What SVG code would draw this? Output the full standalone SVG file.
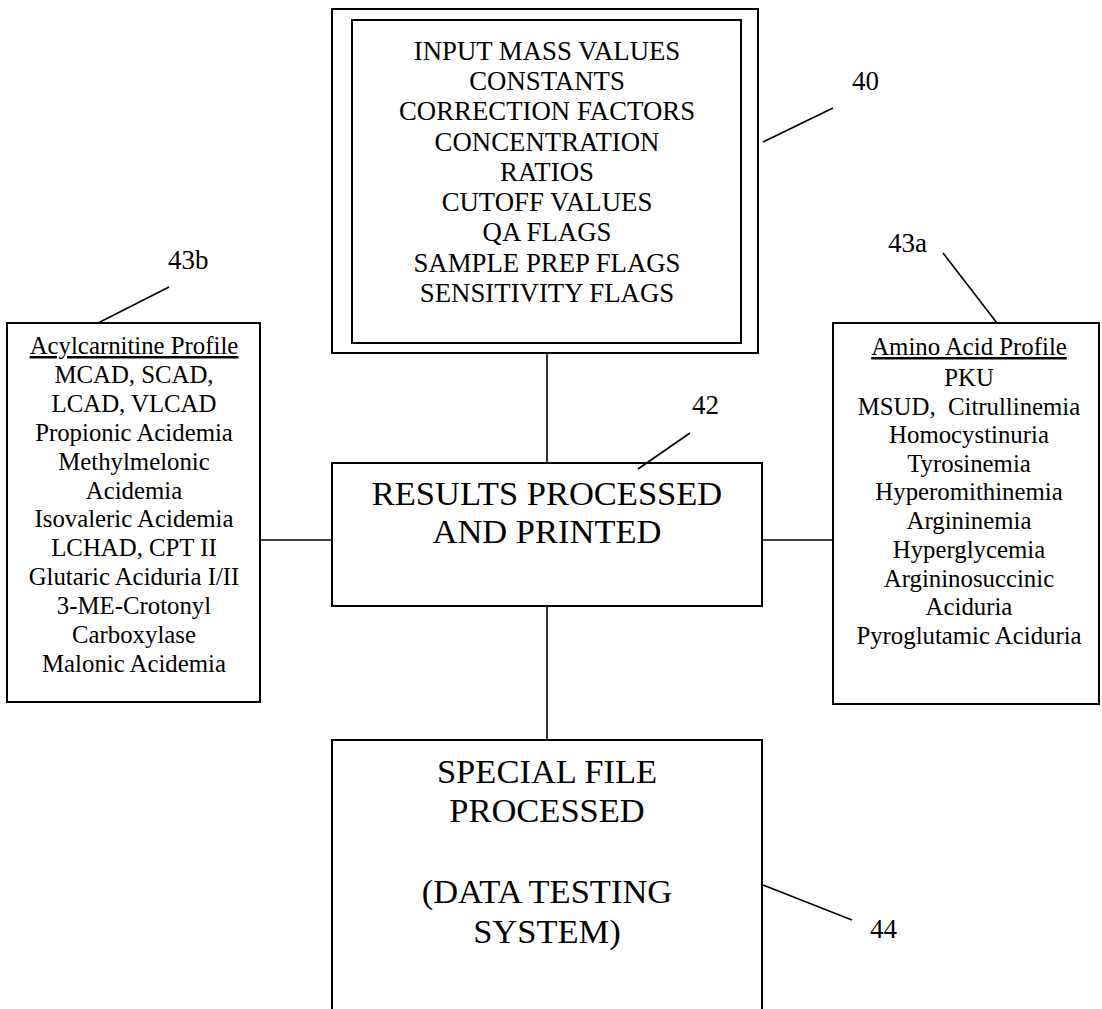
<svg xmlns="http://www.w3.org/2000/svg" width="1102" height="1009" viewBox="0 0 1102 1009">
<style>
.box{fill:#fff;stroke:#000;stroke-width:2}
.ln{stroke:#000;stroke-width:1.6;fill:none}
.ld{stroke:#000;stroke-width:1.6;fill:none}
text{font-family:"Liberation Serif","Times New Roman",serif;fill:#000;text-anchor:middle}
.t26{font-size:26.8px}
.t25{font-size:24.8px}
.t35{font-size:34.5px}
.lbl{font-size:27px;text-anchor:start}
</style>
<rect width="1102" height="1009" fill="#fff"/>
<g id="connectors">
<line class="ln" x1="547" y1="353" x2="547" y2="463"/>
<line class="ln" x1="547" y1="606" x2="547" y2="740"/>
<line class="ln" x1="260" y1="540" x2="332" y2="540"/>
<line class="ln" x1="762" y1="540" x2="833" y2="540"/>
</g>
<g id="node40">
<rect class="box" x="332" y="9" width="426" height="344"/>
<rect class="box" x="352" y="20" width="389" height="323"/>
<text class="t26" x="547" y="60">INPUT MASS VALUES</text>
<text class="t26" x="547" y="90">CONSTANTS</text>
<text class="t26" x="547" y="120">CORRECTION FACTORS</text>
<text class="t26" x="547" y="151">CONCENTRATION</text>
<text class="t26" x="547" y="181">RATIOS</text>
<text class="t26" x="547" y="211">CUTOFF VALUES</text>
<text class="t26" x="547" y="241">QA FLAGS</text>
<text class="t26" x="547" y="272">SAMPLE PREP FLAGS</text>
<text class="t26" x="547" y="302">SENSITIVITY FLAGS</text>
</g>
<g id="node43b">
<rect class="box" x="7" y="323" width="253" height="379"/>
<text class="t25" x="134" y="354" text-decoration="underline">Acylcarnitine Profile</text>
<text class="t25" x="134" y="383">MCAD, SCAD,</text>
<text class="t25" x="134" y="412">LCAD, VLCAD</text>
<text class="t25" x="134" y="441">Propionic Acidemia</text>
<text class="t25" x="134" y="470">Methylmelonic</text>
<text class="t25" x="134" y="499">Acidemia</text>
<text class="t25" x="134" y="527">Isovaleric Acidemia</text>
<text class="t25" x="134" y="556">LCHAD, CPT II</text>
<text class="t25" x="134" y="585">Glutaric Aciduria I/II</text>
<text class="t25" x="134" y="614">3-ME-Crotonyl</text>
<text class="t25" x="134" y="643">Carboxylase</text>
<text class="t25" x="134" y="672">Malonic Acidemia</text>
</g>
<g id="node43a">
<rect class="box" x="833" y="323" width="266" height="381"/>
<text class="t25" x="969" y="355" text-decoration="underline">Amino Acid Profile</text>
<text class="t25" x="969" y="386">PKU</text>
<text class="t25" x="969" y="415" style="white-space:pre">MSUD,  Citrullinemia</text>
<text class="t25" x="969" y="443">Homocystinuria</text>
<text class="t25" x="969" y="472">Tyrosinemia</text>
<text class="t25" x="969" y="500">Hyperomithinemia</text>
<text class="t25" x="969" y="529">Argininemia</text>
<text class="t25" x="969" y="558">Hyperglycemia</text>
<text class="t25" x="969" y="587">Argininosuccinic</text>
<text class="t25" x="969" y="615">Aciduria</text>
<text class="t25" x="969" y="644">Pyroglutamic Aciduria</text>
</g>
<g id="node42">
<rect class="box" x="332" y="463" width="430" height="143"/>
<text class="t35" x="547" y="505">RESULTS PROCESSED</text>
<text class="t35" x="547" y="543">AND PRINTED</text>
</g>
<g id="node44">
<rect class="box" x="332" y="740" width="430" height="290"/>
<text class="t35" x="547" y="783">SPECIAL FILE</text>
<text class="t35" x="547" y="822">PROCESSED</text>
<text class="t35" x="547" y="903">(DATA TESTING</text>
<text class="t35" x="547" y="943">SYSTEM)</text>
</g>
<g id="labels">
<line class="ld" x1="763" y1="142" x2="833" y2="108"/>
<text class="lbl" x="852" y="90">40</text>
<line class="ld" x1="98" y1="323" x2="169" y2="287"/>
<text class="lbl" x="168" y="269">43b</text>
<line class="ld" x1="997" y1="323" x2="943" y2="253"/>
<text class="lbl" x="888" y="252">43a</text>
<line class="ld" x1="638" y1="469" x2="690" y2="433"/>
<text class="lbl" x="692" y="414">42</text>
<line class="ld" x1="763" y1="885" x2="852" y2="920"/>
<text class="lbl" x="870" y="938">44</text>
</g>
</svg>
